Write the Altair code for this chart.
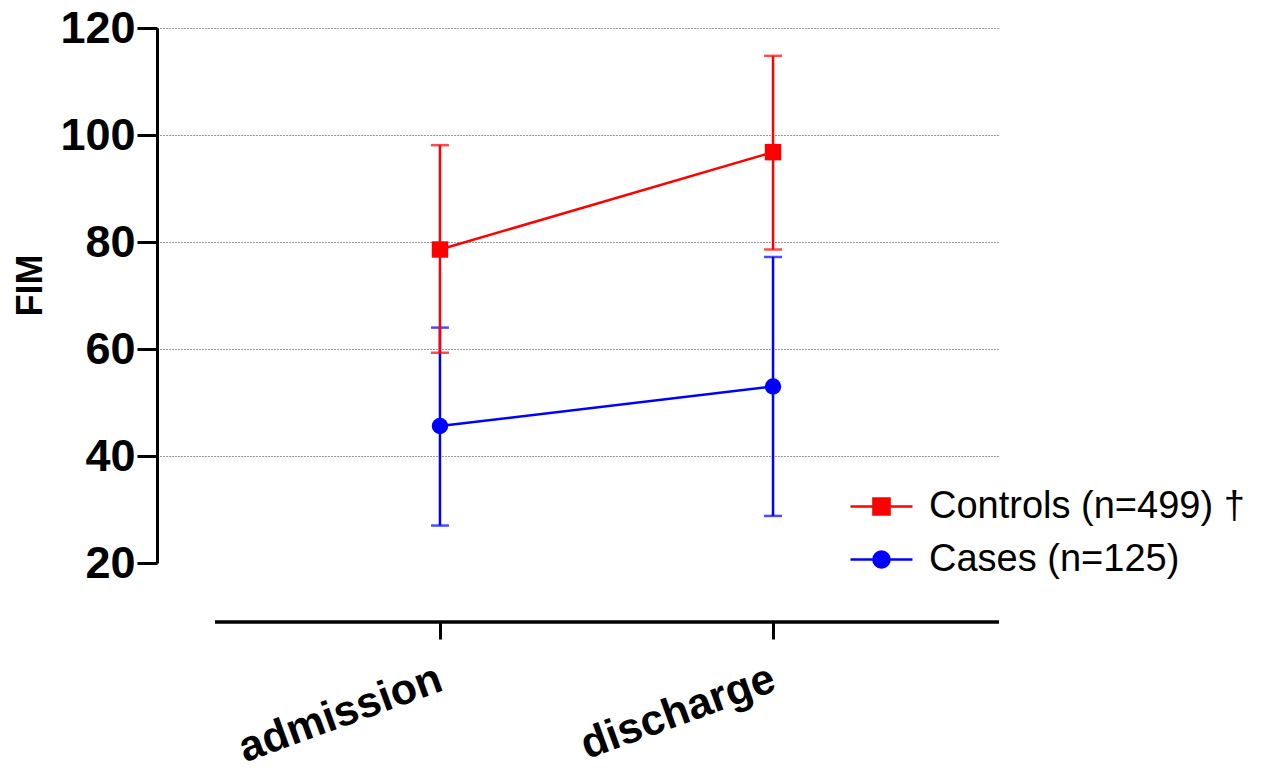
import altair as alt
import pandas as pd

timepoints = ["admission", "discharge"]
series_names = ["Controls (n=499) †", "Cases (n=125)"]
series_colors = ["#ff0000", "#0000ff"]

controls_mean = [78.6, 96.8]
controls_lo = [59.3, 78.6]
controls_hi = [98.1, 114.8]

cases_mean = [45.6, 53.0]
cases_lo = [27.0, 28.8]
cases_hi = [64.0, 77.2]

y_ticks = [20, 40, 60, 80, 100, 120]

FONT = "Liberation Sans"

rows = []
for name, means, los, his in [
    (series_names[0], controls_mean, controls_lo, controls_hi),
    (series_names[1], cases_mean, cases_lo, cases_hi),
]:
    for t, m, lo, hi in zip(timepoints, means, los, his):
        rows.append({"series": name, "time": t, "mean": m, "lo": lo, "hi": hi})
df = pd.DataFrame(rows)

x_enc = alt.X(
    "time:N",
    sort=timepoints,
    scale=alt.Scale(type="point", padding=0.764, align=0.556),
    axis=alt.Axis(
        title=None,
        domain=False,
        ticks=True,
        tickSize=17,
        tickWidth=3,
        tickColor="black",
        labelAngle=-20,
        labelAlign="right",
        labelBaseline="middle",
        labelFont=FONT,
        labelFontSize=43,
        labelFontWeight="bold",
        labelColor="black",
        labelLimit=1000,
        labelPadding=38,
        offset=59,
        grid=False,
    ),
)

y_axis = alt.Axis(
    values=y_ticks,
    title="FIM",
    titleFont=FONT,
    titleFontSize=36,
    titleFontWeight="bold",
    titleColor="black",
    titleAngle=270,
    titleX=-127,
    titleY=257,
    titleAlign="center",
    titleBaseline="middle",
    domainWidth=3,
    domainColor="black",
    tickSize=20,
    tickWidth=3,
    tickColor="black",
    labelFont=FONT,
    labelFontSize=45,
    labelFontWeight="bold",
    labelColor="black",
    labelPadding=2,
    grid=True,
    gridDash=[1, 2],
    gridColor="#333333",
    gridWidth=1,
    gridOpacity={"condition": {"test": "datum.value === 20", "value": 0}, "value": 1},
)
y_scale = alt.Scale(domain=[20, 120], nice=False, zero=False)


def y_enc(field):
    return alt.Y(field, type="quantitative", scale=y_scale, axis=y_axis)


base = alt.Chart(df)


def series_layers(name, color, shape):
    sub = base.transform_filter(alt.datum.series == name)
    bars = sub.mark_rule(color=color, strokeWidth=2.5).encode(
        x=x_enc, y=y_enc("lo"), y2="hi"
    )
    cap_lo = sub.mark_tick(color=color, size=18, thickness=2.5, orient="horizontal").encode(
        x=x_enc, y=y_enc("lo")
    )
    cap_hi = sub.mark_tick(color=color, size=18, thickness=2.5, orient="horizontal").encode(
        x=x_enc, y=y_enc("hi")
    )
    line = sub.mark_line(color=color, strokeWidth=2.5).encode(x=x_enc, y=y_enc("mean"))
    pts = sub.mark_point(
        shape=shape, filled=True, size=270, color=color, opacity=1
    ).encode(x=x_enc, y=y_enc("mean"))
    return [bars, cap_lo, cap_hi, line, pts]


# x axis baseline (Prism-style detached axis)
axis_line = alt.Chart(alt.Data(values=[{}])).mark_rule(
    color="black", strokeWidth=3.5
).encode(x=alt.value(58), x2=alt.value(842), y=alt.value(594))

square_path = "M-1,0H1M-0.26,-0.26H0.26V0.26H-0.26Z"
circle_path = "M-1,0H1M0.26,0A0.26,0.26,0,1,1,-0.26,0A0.26,0.26,0,1,1,0.26,0Z"

legend_layer = base.transform_filter("false").mark_point(filled=True, opacity=1).encode(
    x=x_enc,
    y=y_enc("mean"),
    fill=alt.Fill(
        "series:N",
        scale=alt.Scale(domain=series_names, range=series_colors),
        legend=alt.Legend(
            title=None,
            orient="none",
            legendX=692,
            legendY=446,
            labelFont=FONT,
            labelFontSize=38,
            labelColor="black",
            labelLimit=600,
            labelOffset=15,
            symbolSize=3844,
            symbolStrokeWidth=2.5,
            rowPadding=1,
        ),
    ),
    stroke=alt.Stroke(
        "series:N",
        scale=alt.Scale(domain=series_names, range=series_colors),
        legend=alt.Legend(title=None),
    ),
    shape=alt.Shape(
        "series:N",
        scale=alt.Scale(domain=series_names, range=[square_path, circle_path]),
        legend=alt.Legend(title=None),
    ),
)

layers = (
    [axis_line]
    + series_layers(series_names[1], series_colors[1], "circle")
    + series_layers(series_names[0], series_colors[0], "square")
    + [legend_layer]
)

chart = (
    alt.layer(*layers)
    .properties(
        width=842,
        height=535,
        autosize=alt.AutoSizeParams(type="none"),
        padding={"left": 157, "top": 28, "right": 267, "bottom": 208},
        background="white",
    )
    .configure_view(stroke=None)
)

chart.save("out.html", embed_options={"renderer": "svg", "actions": False})
